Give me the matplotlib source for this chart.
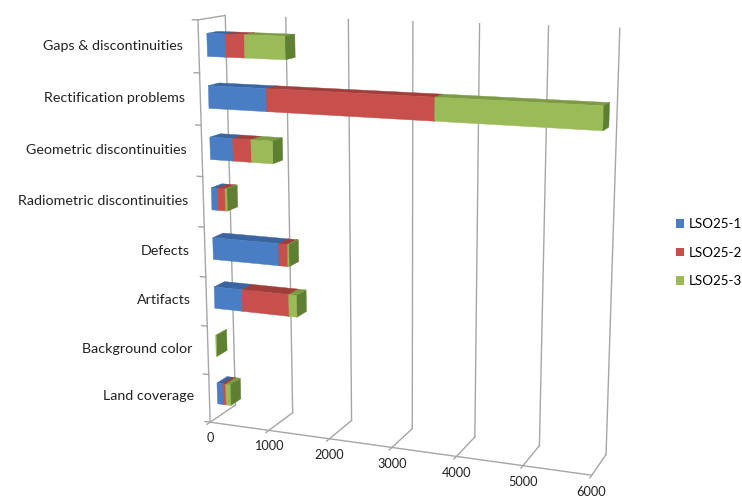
import numpy as np
import matplotlib.pyplot as plt
from matplotlib.patches import Patch
from mpl_toolkits.mplot3d.art3d import Poly3DCollection

plt.rcParams['font.family'] = ['Lato', 'DejaVu Sans']

# data, bottom category first
categories = ['Land coverage', 'Background color', 'Artifacts', 'Defects',
              'Radiometric discontinuities', 'Geometric discontinuities',
              'Rectification problems', 'Gaps & discontinuities']
lso25_1 = [100, 0, 470, 1100, 100, 380, 950, 300]
lso25_2 = [50, 0, 780, 145, 130, 300, 2600, 310]
lso25_3 = [80, 12, 130, 20, 30, 350, 2400, 650]
series_names = ['LSO25-1', 'LSO25-2', 'LSO25-3']
value_ticks = [0, 1000, 2000, 3000, 4000, 5000, 6000]

front_cols = ['#4a7ec4', '#c8504c', '#9bbb59']
top_cols = ['#3b65a0', '#a03e3b', '#7d9a44']
end_cols = ['#35598f', '#8f3634', '#5f7f33']
grid_col = '#a6a6a6'

fig = plt.figure(figsize=(7.42, 4.97), dpi=100)
ax = fig.add_axes([0.157, -0.073, 0.75, 1.16], projection='3d')
ax.computed_zorder = False
ax.set_proj_type('persp', focal_length=0.5)
ax.view_init(elev=13, azim=-69)
ax.set_xlim(0, 6000)
ax.set_ylim(0, 1)
ax.set_zlim(0, len(categories))
ax.set_box_aspect((425, 60, 435), zoom=1.04)
ax.set_axis_off()

xmax = value_ticks[-1]
zmax = len(categories)

# walls and floor
for v in value_ticks:
    ax.plot([v, v], [1, 1], [0, zmax], color=grid_col, lw=1, zorder=1)
    ax.plot([v, v], [-0.12, 1], [0, 0], color=grid_col, lw=1, zorder=1)
ax.plot([0, xmax], [0, 0], [0, 0], color=grid_col, lw=1, zorder=1)
ax.plot([0, 0], [0, 0], [0, zmax], color=grid_col, lw=1, zorder=1)
ax.plot([0, 0], [0, 1], [zmax, zmax], color=grid_col, lw=1, zorder=1)
for k in range(zmax + 1):
    ax.plot([-90, 0], [0, 0], [k, k], color=grid_col, lw=1, zorder=1)

# bars
y0, y1 = 0.3, 0.7
series = [lso25_1, lso25_2, lso25_3]
zo = 2
for i in range(len(categories)):
    z0, z1 = i + 0.28, i + 0.72
    left = 0
    for s in range(3):
        v = series[s][i]
        if v <= 0:
            continue
        x0, x1 = left, left + v
        front = [(x0, y0, z0), (x1, y0, z0), (x1, y0, z1), (x0, y0, z1)]
        top = [(x0, y0, z1), (x1, y0, z1), (x1, y1, z1), (x0, y1, z1)]
        end = [(x1, y0, z0), (x1, y1, z0), (x1, y1, z1), (x1, y0, z1)]
        cols = [front_cols[s], top_cols[s], end_cols[s]]
        pc = Poly3DCollection([front, top, end], facecolors=cols,
                              edgecolors=cols, linewidths=0.3)
        pc.set_zorder(zo)
        ax.add_collection3d(pc)
        zo += 1
        left = x1

# labels
for i, name in enumerate(categories):
    ax.text(-260, 0, i + 0.5, name, ha='right', va='center',
            fontsize=10.3, color='#222222', zorder=50)
for v in value_ticks:
    ax.text(v, 0, -0.33, str(v), ha='center', va='center',
            fontsize=9.2, color='#222222', zorder=50)

handles = [Patch(facecolor=c, edgecolor='none') for c in front_cols]
fig.legend(handles, series_names, loc='upper left',
           bbox_to_anchor=(676 / 742, 1 - 218 / 497), frameon=False,
           fontsize=9.6, handlelength=0.62, handleheight=0.62,
           handletextpad=0.35, labelspacing=1.25, borderpad=0, borderaxespad=0)

plt.savefig('out.png', dpi=100)
